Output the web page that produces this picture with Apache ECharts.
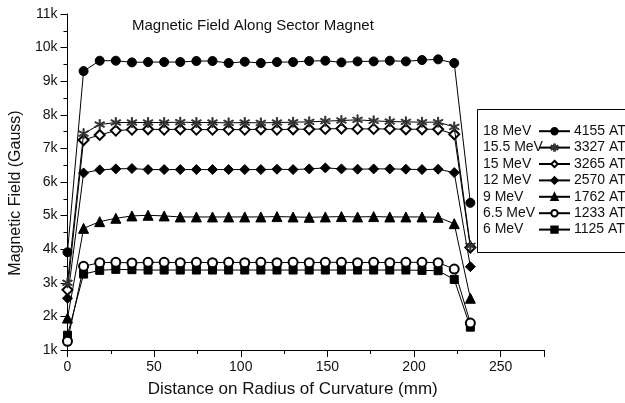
<!DOCTYPE html>
<html>
<head>
<meta charset="utf-8">
<script src="https://cdn.jsdelivr.net/npm/echarts@6/dist/echarts.min.js"></script>
<style>
html,body{margin:0;padding:0;background:#fff;}
#chart{width:625px;height:403px;}
</style>
</head>
<body>
<div id="chart"></div>
<script>
const xPositions = [0, 9.3, 18.6, 27.9, 37.2, 46.5, 55.8, 65.1, 74.4, 83.7, 93, 102.3, 111.6, 120.9, 130.2, 139.5, 148.8, 158.1, 167.4, 176.7, 186, 195.3, 204.6, 213.9, 223.2, 232.5];

const seriesNames = ['18 MeV', '15.5 MeV', '15 MeV', '12 MeV', '9 MeV', '6.5 MeV', '6 MeV'];
const ampereTurns = ['4155 AT', '3327 AT', '3265 AT', '2570 AT', '1762 AT', '1233 AT', '1125 AT'];

const mev18  = [3910, 9300, 9610, 9610, 9560, 9570, 9570, 9570, 9600, 9600, 9540, 9580, 9540, 9570, 9570, 9600, 9610, 9560, 9590, 9590, 9610, 9590, 9630, 9650, 9540, 5380];
const mev155 = [3000, 7440, 7710, 7770, 7770, 7770, 7770, 7780, 7770, 7770, 7760, 7770, 7760, 7770, 7780, 7790, 7810, 7830, 7850, 7820, 7800, 7790, 7780, 7780, 7640, 4100];
const mev15  = [2790, 7250, 7400, 7530, 7560, 7570, 7560, 7570, 7560, 7560, 7560, 7560, 7570, 7560, 7570, 7570, 7580, 7590, 7580, 7580, 7580, 7570, 7570, 7570, 7420, 4050];
const mev12  = [2540, 6270, 6360, 6390, 6400, 6370, 6370, 6370, 6370, 6370, 6370, 6370, 6370, 6380, 6370, 6390, 6420, 6390, 6380, 6390, 6390, 6380, 6370, 6380, 6280, 3480];
const mev9   = [1950, 4620, 4820, 4920, 4990, 5010, 4990, 4960, 4960, 4960, 4960, 4960, 4960, 4970, 4960, 4950, 4960, 4970, 4960, 4970, 4960, 4960, 4960, 4950, 4760, 2540];
const mev65  = [1260, 3490, 3600, 3610, 3590, 3610, 3610, 3600, 3610, 3600, 3610, 3600, 3610, 3600, 3610, 3600, 3610, 3610, 3600, 3610, 3600, 3610, 3610, 3600, 3410, 1800];
const mev6   = [1440, 3260, 3370, 3400, 3390, 3380, 3380, 3380, 3380, 3380, 3380, 3380, 3380, 3380, 3380, 3380, 3380, 3380, 3380, 3380, 3380, 3380, 3370, 3360, 3100, 1680];

const seriesValues = [mev18, mev155, mev15, mev12, mev9, mev65, mev6];

const starPath = 'path://M9 0L11 0L11 20L9 20Z M1.84 4.13L19.16 14.13L18.16 15.87L0.84 5.87Z M1.84 15.87L0.84 14.13L18.16 4.13L19.16 5.87Z';
const symbols = ['circle', starPath, 'emptyDiamond', 'diamond', 'triangle', 'emptyCircle', 'rect'];
const symbolSizes = [9, 10, 10, 10, 10, 9, 8];
const colors = ['#000', '#333', '#000', '#000', '#000', '#000', '#000'];

const FONT = '"Liberation Sans", Arial, sans-serif';

const series = seriesNames.map((name, k) => ({
  name: name,
  type: 'line',
  data: xPositions.map((x, i) => [x, seriesValues[k][i]]),
  symbol: symbols[k],
  symbolSize: symbolSizes[k],
  showAllSymbol: true,
  color: colors[k],
  lineStyle: { color: '#000', width: 1 },
  itemStyle: { color: colors[k], borderColor: colors[k], borderWidth: 1 },
  z: 10 - k,
  animation: false
}));

const chart = echarts.init(document.getElementById('chart'), null, { renderer: 'canvas' });
chart.setOption({
  backgroundColor: '#fff',
  animation: false,
  title: {
    text: 'Magnetic Field Along Sector Magnet',
    left: 127, top: 13,
    textStyle: { fontFamily: FONT, fontSize: 15, fontWeight: 'normal', color: '#111' }
  },
  grid: { left: 66, right: 81, top: 14, bottom: 49, containLabel: false },
  xAxis: {
    type: 'value', min: 0, max: 275, interval: 50,
    name: 'Distance on Radius of Curvature (mm)',
    nameLocation: 'middle', nameGap: 31,
    nameTextStyle: { fontFamily: FONT, fontSize: 17, color: '#111', padding: [0, 26, 0, 0] },
    axisLine: { show: true, lineStyle: { color: '#000', width: 1 } },
    axisTick: { show: true, inside: false, length: 7, lineStyle: { color: '#000' } },
    minorTick: { show: true, splitNumber: 2, length: 4, lineStyle: { color: '#000' } },
    axisLabel: { fontFamily: FONT, fontSize: 14, color: '#111', margin: 10, showMaxLabel: false },
    splitLine: { show: false }
  },
  yAxis: {
    type: 'value', min: 1000, max: 11000, interval: 1000,
    name: 'Magnetic Field (Gauss)',
    nameLocation: 'middle', nameGap: 30,
    nameTextStyle: { fontFamily: FONT, fontSize: 16, color: '#111', padding: [0, 22, 0, 0] },
    axisLine: { show: true, lineStyle: { color: '#000', width: 1 } },
    axisTick: { show: true, inside: false, length: 7, lineStyle: { color: '#000' } },
    minorTick: { show: true, splitNumber: 2, length: 4, lineStyle: { color: '#000' } },
    axisLabel: { fontFamily: FONT, fontSize: 14, color: '#111', margin: 10,
      formatter: v => (v / 1000) + 'k' },
    splitLine: { show: false }
  },
  legend: [
    {
      data: seriesNames,
      orient: 'vertical', left: 483, top: 123,
      padding: 0,
      align: 'right',
      itemWidth: 31, itemHeight: 8, itemGap: 0,
      selectedMode: false,
      formatter: name => '{n|' + name + '}',
      textStyle: { fontFamily: FONT, fontSize: 14, color: '#111', lineHeight: 16.4,
        rich: { n: { width: 51, align: 'left', fontFamily: FONT, fontSize: 14, color: '#111', lineHeight: 16.4 } } },
      z: 20
    },
    {
      data: seriesNames,
      orient: 'vertical', left: 568, top: 123,
      padding: 0,
      itemWidth: 0, itemHeight: 0, itemGap: 0,
      selectedMode: false,
      itemStyle: { opacity: 0 }, lineStyle: { opacity: 0 },
      formatter: name => ampereTurns[seriesNames.indexOf(name)],
      textStyle: { fontFamily: FONT, fontSize: 14, color: '#111', lineHeight: 16.4 },
      z: 20
    }
  ],
  graphic: [
    { type: 'rect', left: 475, top: 107, shape: { width: 170, height: 143 },
      style: { fill: 'none', stroke: '#000', lineWidth: 1 }, z: 1 }
  ],
  series: series
});
</script>
</body>
</html>
